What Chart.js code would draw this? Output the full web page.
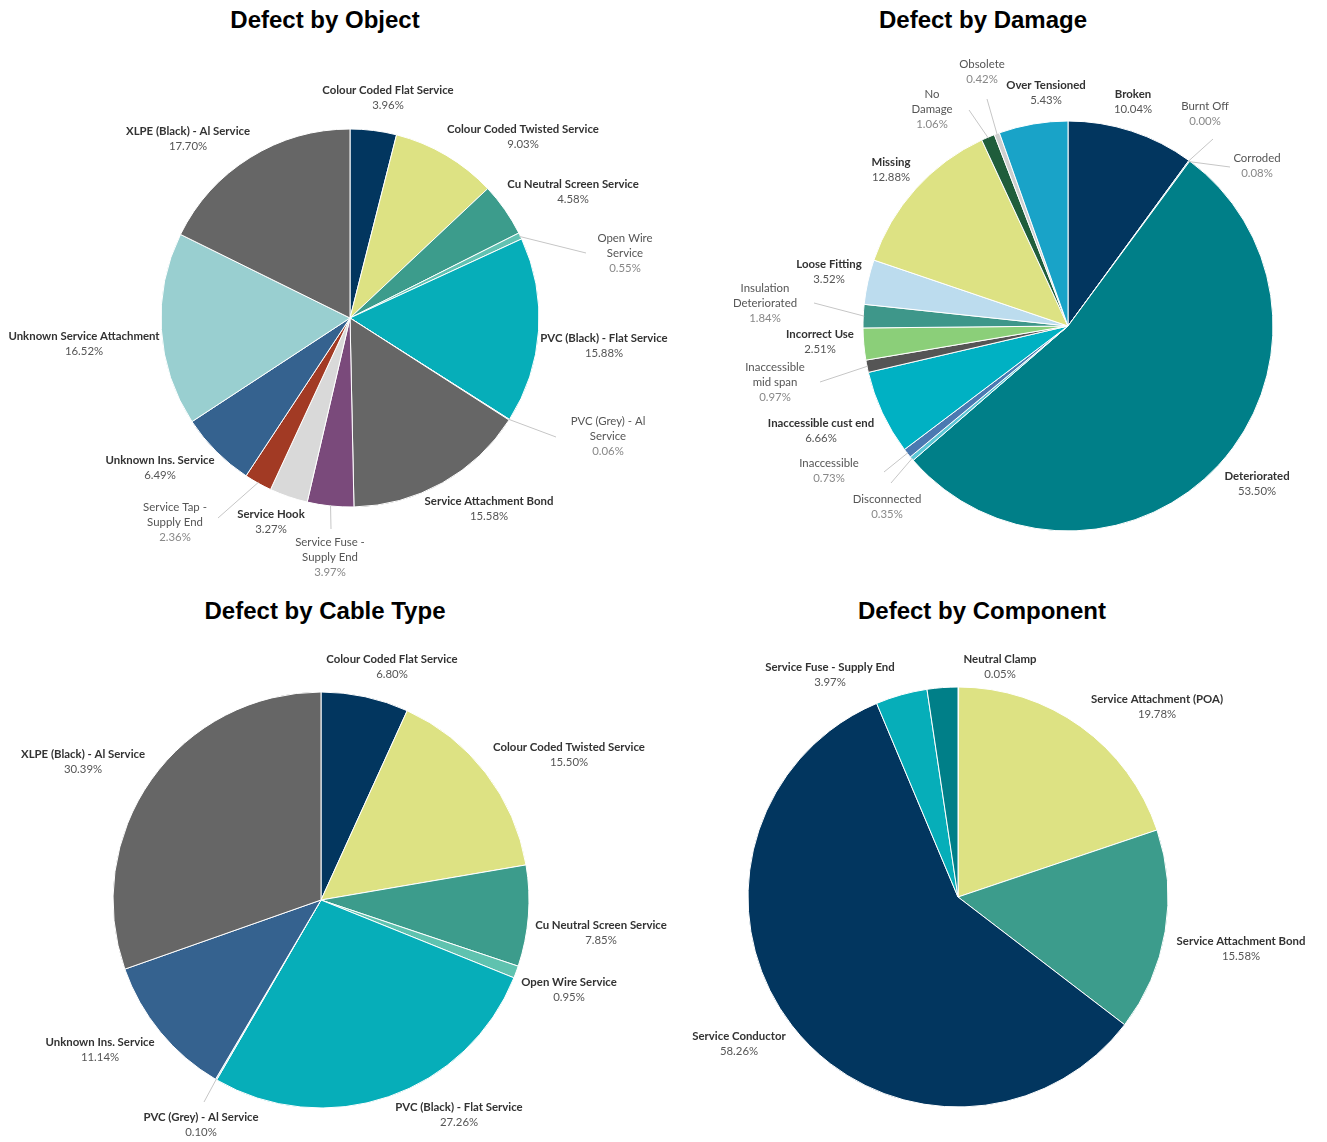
<!DOCTYPE html>
<html>
<head>
<meta charset="utf-8">
<title>Service defects</title>
<script src="https://cdn.jsdelivr.net/npm/chart.js@4.4.1/dist/chart.umd.min.js"></script>
<style>
  body { margin: 0; background: #fff; width: 1327px; height: 1142px; position: relative; overflow: hidden; }
  canvas { position: absolute; left: 0; top: 0; }
  .title { position: absolute; font: bold 24px "Liberation Sans", Arial, sans-serif; color: #000;
           transform: translate(-50%, -50%); white-space: nowrap; }
</style>
</head>
<body>
<div class="title" style="left:325px;top:20px">Defect by Object</div>
<div class="title" style="left:983px;top:20px">Defect by Damage</div>
<div class="title" style="left:325px;top:611px">Defect by Cable Type</div>
<div class="title" style="left:982px;top:611px">Defect by Component</div>
<canvas id="object"></canvas>
<canvas id="damage"></canvas>
<canvas id="cable"></canvas>
<canvas id="component"></canvas>
<script>
// shares of defects, percent, clockwise from 12 o'clock
const objectNames = ["Colour Coded Flat Service", "Colour Coded Twisted Service", "Cu Neutral Screen Service",
  "Open Wire Service", "PVC (Black) - Flat Service", "PVC (Grey) - Al Service", "Service Attachment Bond",
  "Service Fuse - Supply End", "Service Hook", "Service Tap - Supply End", "Unknown Ins. Service",
  "Unknown Service Attachment", "XLPE (Black) - Al Service"];
const objectShares = [3.96, 9.03, 4.58, 0.55, 15.88, 0.06, 15.58, 3.97, 3.27, 2.36, 6.49, 16.52, 17.70];

const damageNames = ["Broken", "Burnt Off", "Corroded", "Deteriorated", "Disconnected", "Inaccessible",
  "Inaccessible cust end", "Inaccessible mid span", "Incorrect Use", "Insulation Deteriorated",
  "Loose Fitting", "Missing", "No Damage", "Obsolete", "Over Tensioned"];
const damageShares = [10.04, 0.00, 0.08, 53.50, 0.35, 0.73, 6.66, 0.97, 2.51, 1.84, 3.52, 12.88, 1.06, 0.42, 5.43];

const cableNames = ["Colour Coded Flat Service", "Colour Coded Twisted Service", "Cu Neutral Screen Service",
  "Open Wire Service", "PVC (Black) - Flat Service", "PVC (Grey) - Al Service", "Unknown Ins. Service",
  "XLPE (Black) - Al Service"];
const cableShares = [6.80, 15.50, 7.85, 0.95, 27.26, 0.10, 11.14, 30.39];

const componentNames = ["Neutral Clamp", "Service Attachment (POA)", "Service Attachment Bond",
  "Service Conductor", "Service Fuse - Supply End", "Service Tap - Supply End"];
const componentShares = [0.05, 19.78, 15.58, 58.26, 3.97, 2.36];

// palette
const NAVY = "#02365f", LIME = "#dde283", SEA = "#3c9c8c", CYAN = "#06aeb9", GREY = "#666666",
      DTEAL = "#007f88", BLUE = "#35628f";

const objectColors = [NAVY, LIME, SEA, "#62c2b2", CYAN, "#9fd6dc", GREY, "#7a4a7b", "#d9d9d9",
  "#a23a24", BLUE, "#99cfd0", GREY];
const damageColors = [NAVY, "#6aa8c0", "#4fa3ae", DTEAL, "#5cc7d6", "#4b79b1", "#00b1c3", "#555555",
  "#8bcf79", "#3e978a", "#bcdcee", LIME, "#1f5d3b", "#cfcfcf", "#19a3c8"];
const cableColors = [NAVY, LIME, SEA, "#5fc2af", CYAN, "#a8d8dc", BLUE, GREY];
const componentColors = ["#c8c8c8", LIME, SEA, NAVY, CYAN, DTEAL];

// label placement, offsets from the pie centre; line = end of leader line, wrap = max line width
const objectSpots = [
  { at: [38, -220] },
  { at: [173, -181] },
  { at: [223, -126] },
  { at: [275, -65], wrap: 60, line: [236, -65], faint: true },
  { at: [254, 28] },
  { at: [258, 118], wrap: 85, line: [206, 119], faint: true },
  { at: [139, 191] },
  { at: [-20, 239], wrap: 80, line: [-19, 211], faint: true },
  { at: [-79, 204] },
  { at: [-175, 204], wrap: 75, line: [-132, 200], faint: true },
  { at: [-190, 150] },
  { at: [-266, 26] },
  { at: [-162, -179] }
];
const damageSpots = [
  { at: [65, -224] },
  { at: [137, -212], line: [145, -187], faint: true },
  { at: [189, -160], line: [162, -159], faint: true },
  { at: [189, 158] },
  { at: [-181, 181], line: [-177, 157], faint: true },
  { at: [-239, 145], line: [-184, 146], faint: true },
  { at: [-247, 105] },
  { at: [-293, 56], wrap: 70, line: [-248, 56], faint: true },
  { at: [-248, 16] },
  { at: [-303, -23], wrap: 70, line: [-254, -23], faint: true },
  { at: [-239, -54] },
  { at: [-177, -156] },
  { at: [-136, -217], wrap: 40, line: [-99, -216], faint: true },
  { at: [-86, -254], line: [-81, -227], faint: true },
  { at: [-22, -233] }
];
const cableSpots = [
  { at: [71, -233] },
  { at: [248, -145] },
  { at: [280, 33] },
  { at: [248, 90] },
  { at: [138, 215] },
  { at: [-120, 225], line: [-117, 202] },
  { at: [-221, 150] },
  { at: [-238, -138] }
];
const componentSpots = [
  { at: [42, -230] },
  { at: [199, -190] },
  { at: [283, 52] },
  { at: [-219, 147] },
  { at: [-128, -222] },
  null
];

const LABEL_FONT = '"Lato", "Liberation Sans", sans-serif';
const LABEL_SIZE = "11.4px ";

function wrapWords(ctx, text, maxW) {
  const words = text.split(" ");
  const out = [];
  let cur = "";
  words.forEach(w => {
    const test = cur ? cur + " " + w : w;
    if (cur && ctx.measureText(test).width > maxW) { out.push(cur); cur = w; }
    else cur = test;
  });
  if (cur) out.push(cur);
  return out;
}

const sliceLabels = {
  id: "sliceLabels",
  afterDatasetsDraw(chart, args, opts) {
    const ctx = chart.ctx;
    const arcs = chart.getDatasetMeta(0).data;
    const vals = chart.data.datasets[0].data;
    opts.spots.forEach((spot, i) => {
      if (!spot) return;
      const arc = arcs[i];
      ctx.save();
      if (spot.line) {
        const mid = (arc.startAngle + arc.endAngle) / 2;
        const r = arc.outerRadius - 1;
        ctx.beginPath();
        ctx.moveTo(arc.x + Math.cos(mid) * r, arc.y + Math.sin(mid) * r);
        ctx.lineTo(arc.x + spot.line[0], arc.y + spot.line[1]);
        ctx.strokeStyle = "#c6c6c6";
        ctx.lineWidth = 1;
        ctx.stroke();
      }
      ctx.textAlign = "center";
      ctx.textBaseline = "middle";
      ctx.font = (spot.faint ? "" : "bold ") + LABEL_SIZE + LABEL_FONT;
      const lines = wrapWords(ctx, chart.data.labels[i], spot.wrap || 999);
      const n = lines.length + 1;
      const lh = 15;
      const cx = arc.x + spot.at[0];
      let y = arc.y + spot.at[1] - (n - 1) * lh / 2;
      ctx.fillStyle = spot.faint ? "#555" : "#333";
      lines.forEach(t => { ctx.fillText(t, cx, y); y += lh; });
      ctx.font = LABEL_SIZE + LABEL_FONT;
      ctx.fillStyle = spot.faint ? "#888" : "#555";
      ctx.fillText(vals[i].toFixed(2) + "%", cx, y);
      ctx.restore();
    });
  }
};

// every canvas spans the page so outer labels are never clipped; pie centre and radius in page pixels
const PAGE_W = 1327, PAGE_H = 1142;

function drawPie(id, pie, names, shares, colors, spots) {
  const cv = document.getElementById(id);
  cv.width = PAGE_W; cv.height = PAGE_H;
  const r = pie.r + 0.5;
  new Chart(cv, {
    type: "pie",
    data: {
      labels: names,
      datasets: [{ data: shares, backgroundColor: colors, borderColor: "#ffffff", borderWidth: 1 }]
    },
    options: {
      responsive: false,
      animation: false,
      events: [],
      layout: { padding: { left: pie.cx - r, top: pie.cy - r, right: PAGE_W - (pie.cx + r), bottom: PAGE_H - (pie.cy + r) } },
      plugins: {
        legend: { display: false },
        tooltip: { enabled: false },
        sliceLabels: { spots: spots }
      }
    },
    plugins: [sliceLabels]
  });
}

drawPie("object", { cx: 350, cy: 318, r: 189 }, objectNames, objectShares, objectColors, objectSpots);
drawPie("damage", { cx: 1068, cy: 326, r: 205 }, damageNames, damageShares, damageColors, damageSpots);
drawPie("cable", { cx: 321, cy: 900, r: 208 }, cableNames, cableShares, cableColors, cableSpots);
drawPie("component", { cx: 958, cy: 897, r: 210 }, componentNames, componentShares, componentColors, componentSpots);
</script>
</body>
</html>
